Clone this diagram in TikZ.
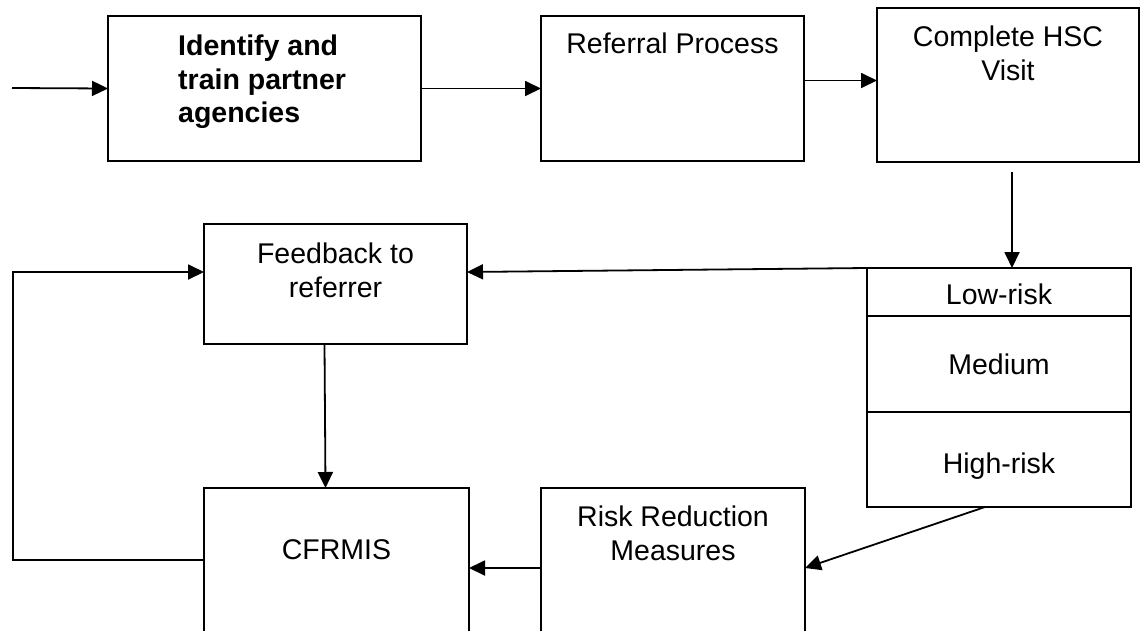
\documentclass[tikz,border=0pt]{standalone}
\usepackage{fontspec}
\setmainfont{Liberation Sans}
\usetikzlibrary{arrows.meta,positioning}

\begin{document}
\begin{tikzpicture}[x=1pt,y=-1pt,
  box/.style={draw, line width=2pt, rectangle, inner sep=0pt, outer sep=0pt, anchor=north west},
  txt/.style={inner sep=0pt, align=center, font=\fontsize{28.5}{33.5}\selectfont},
  btxt/.style={inner sep=0pt, align=left, font=\fontsize{28.5}{33.5}\selectfont\bfseries},
  arr/.style={line width=1.8pt, -{Triangle[length=16pt,width=15pt]}}]
\useasboundingbox (0,0) rectangle (1146,630);
\clip (0,0) rectangle (1146,630);

\node[box, minimum width=313pt, minimum height=145pt] (ident) at (108,16) {};
\node[box, minimum width=263pt, minimum height=145pt] (refer) at (541,16) {};
\node[box, minimum width=262pt, minimum height=154pt] (hsc) at (877,8) {};
\node[box, minimum width=263pt, minimum height=120pt] (feed) at (204,224) {};
\node[box, minimum width=265pt, minimum height=160pt] (cfr) at (204,488) {};
\node[box, minimum width=264pt, minimum height=160pt] (rrm) at (541,488) {};
\node[box, txt, text height=26pt, minimum width=264pt, minimum height=48pt] (low) at (867,268) {Low-risk};
\node[box, txt, minimum width=264pt, minimum height=96pt, below=0pt of low] (med) {Medium};
\node[box, txt, text height=33pt, minimum width=264pt, minimum height=95pt, below=0pt of med] (high) {High-risk};

\node[btxt, anchor=north west] (identtxt) at ([xshift=70pt,yshift=-19pt]ident.north west) {Identify and\\train partner\\agencies};
\node[txt, anchor=north] (refertxt) at ([yshift=-17pt]refer.north) {Referral Process};
\node[txt, anchor=north] (hsctxt) at ([yshift=-18pt]hsc.north) {Complete HSC\\Visit};
\node[txt, anchor=north] (feedtxt) at ([yshift=-19pt]feed.north) {Feedback to\\referrer};
\node[txt, anchor=north] (cfrtxt) at ([yshift=-51pt]cfr.north) {CFRMIS};
\node[txt, anchor=north] (rrmtxt) at ([yshift=-18pt]rrm.north) {Risk Reduction\\Measures};

\coordinate (start) at (12,88);
\coordinate[xshift=4pt] (hscout) at (hsc.south);

\draw[arr] (start) -- (ident.west);
\draw[arr] (ident.east) -- (refer.west);
\draw[arr] ([yshift=8pt]refer.east) -- ([yshift=8pt]refer.east -| hsc.west);
\draw[arr, shorten <=10pt] (hscout) -- (hscout |- low.north);
\draw[arr] (low.north west) -- ([yshift=12pt]feed.east);
\draw[arr] ([xshift=-11pt]feed.south) -- ([xshift=-11pt]cfr.north);
\draw[arr] ([xshift=-14pt]high.south) -- (rrm.east);
\draw[arr] (rrm.west) -- (cfr.east);
\draw[arr] ([yshift=8pt]cfr.west) -- ++(-191,0) |- ([yshift=12pt]feed.west);

\end{tikzpicture}
\end{document}
